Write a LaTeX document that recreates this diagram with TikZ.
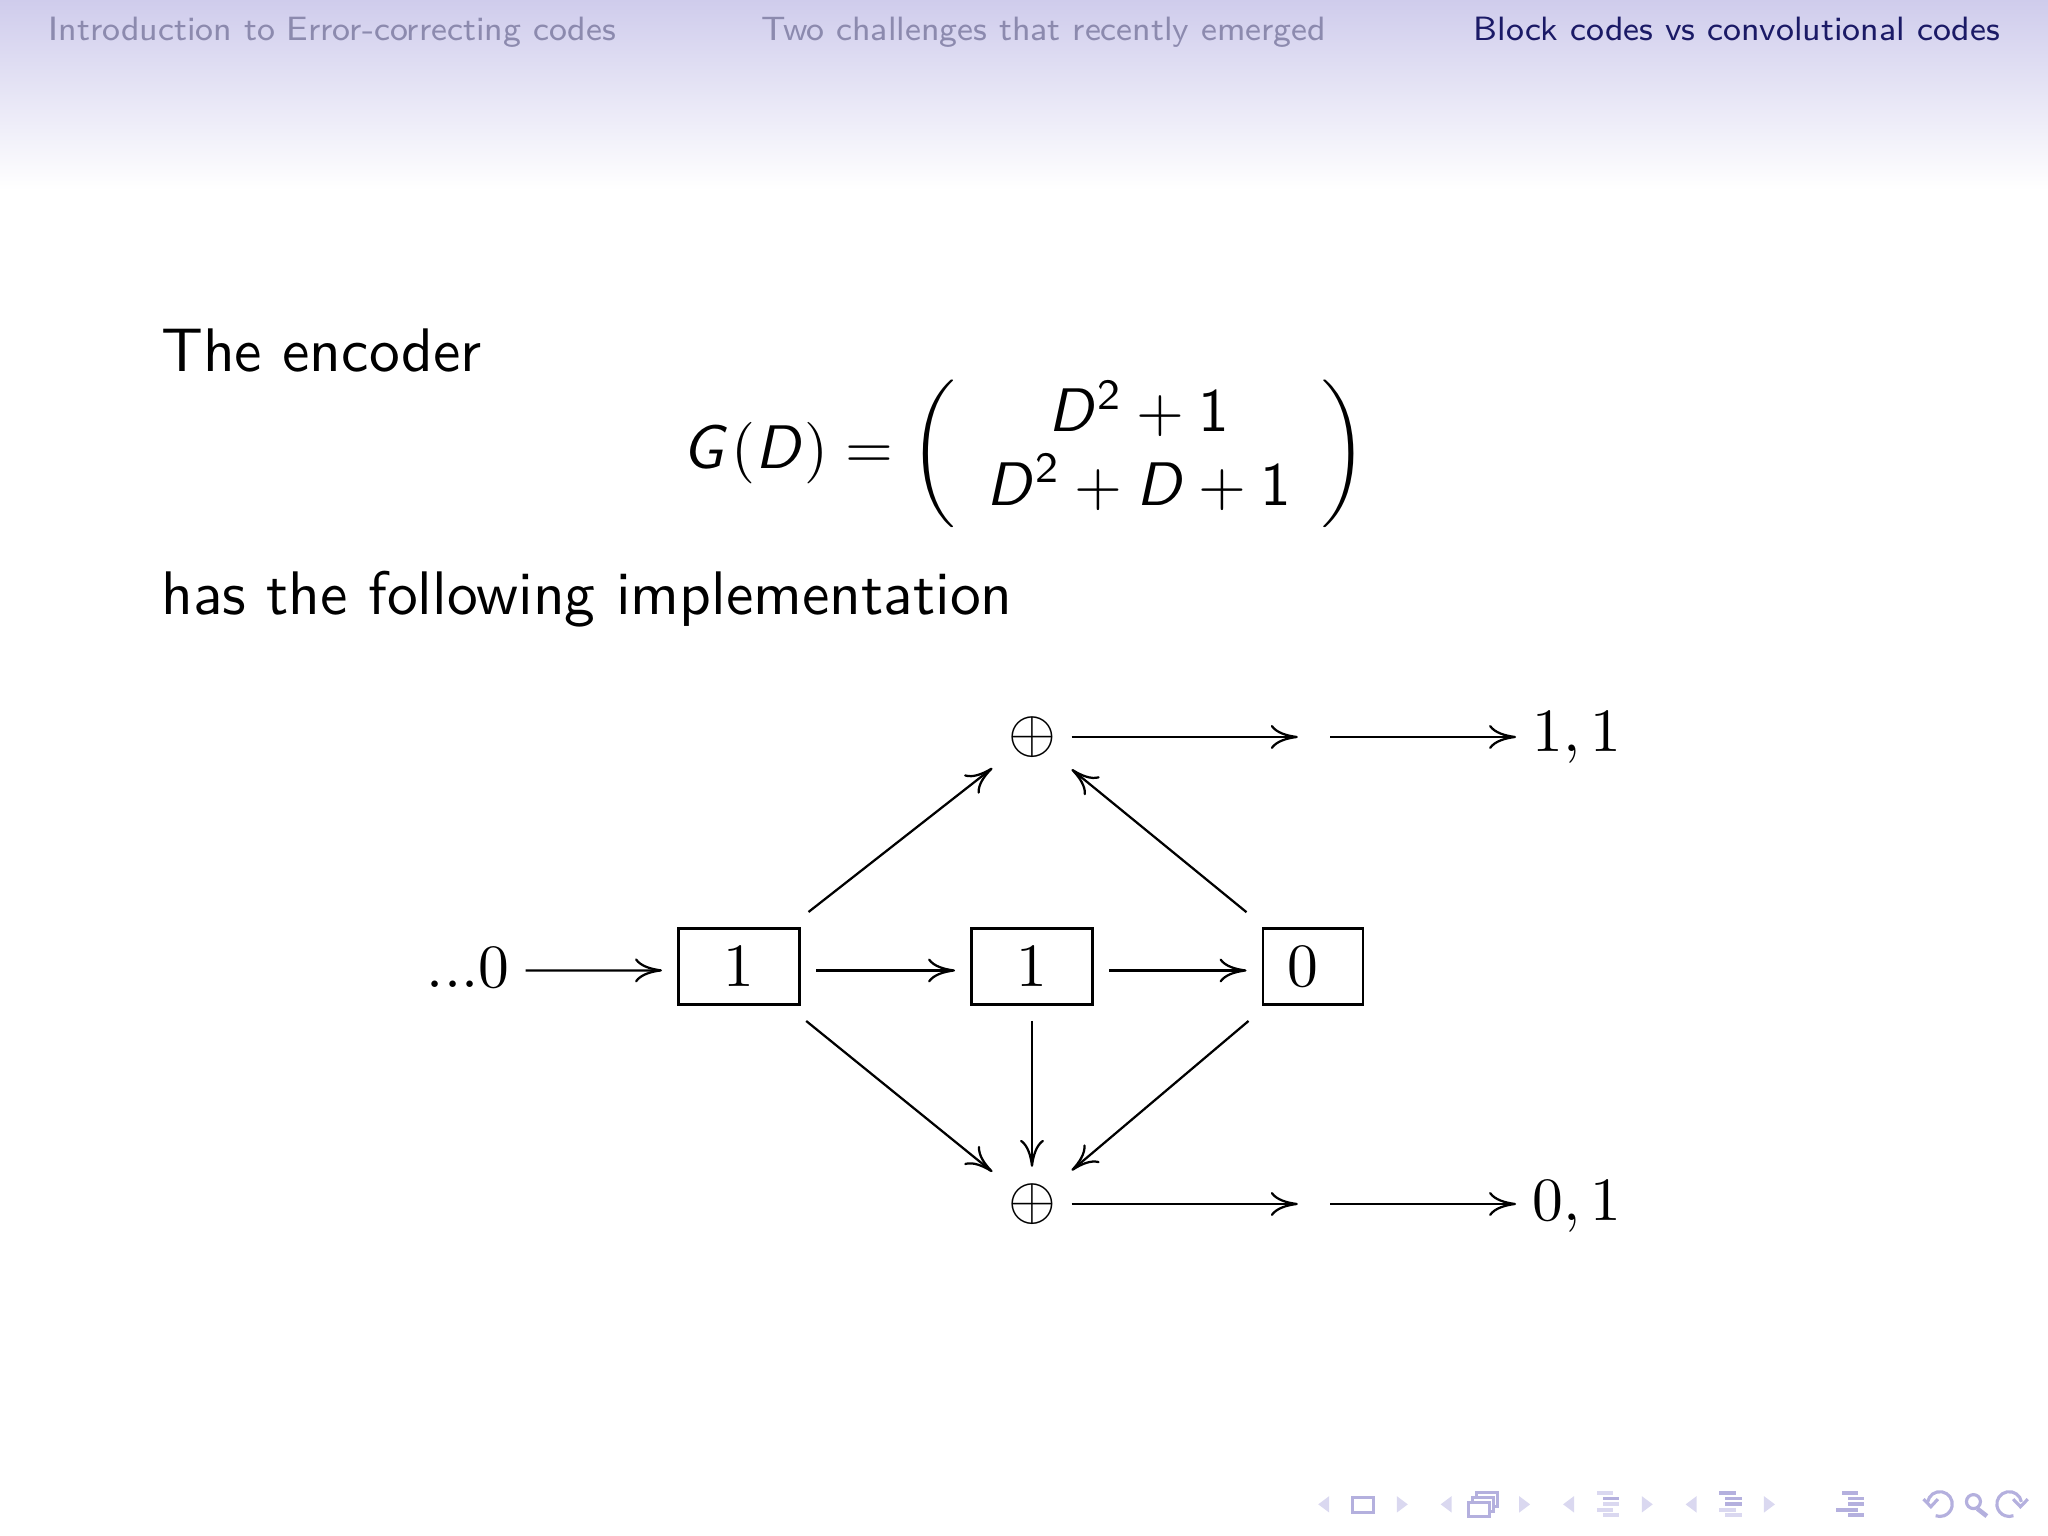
\documentclass[tikz,border=0pt]{standalone}
\usepackage{graphicx}
\usetikzlibrary{arrows.meta}
\renewcommand{\familydefault}{\sfdefault}
\DeclareMathAlphabet{\mathsl}{OT1}{cmss}{m}{sl}
\definecolor{headtop}{HTML}{CFCCEC}
\definecolor{headfade}{HTML}{8C8AAE}
\definecolor{headactive}{HTML}{1B1A66}
\definecolor{navdark}{HTML}{B4B0DE}
\definecolor{navlight}{HTML}{DAD8F0}
\newcommand{\bodymag}[1]{\scalebox{1.75}{#1}}
\newcommand{\headmag}[1]{\scalebox{1.2}{\fontsize{8}{9.6}\selectfont #1}}
\tikzset{
  headtext/.style={anchor=base west,inner sep=0pt},
  bodytext/.style={anchor=base west,inner sep=0pt},
  regbox/.style={draw,line width=.64pt,inner sep=0pt,minimum width=1.21cm,minimum height=.76cm,outer sep=.165cm},
  xorsum/.style={inner sep=0pt,minimum width=.78cm,minimum height=.73cm},
  hop/.style={inner sep=0pt,minimum width=.31cm},
  endtext/.style={inner sep=0pt,outer sep=.165cm},
  wire/.style={line width=.64pt,-{Computer Modern Rightarrow[length=.27cm,width=.24cm]}},
  navtri/.style={fill=navlight},
  navline/.style={draw=navdark,line width=.9pt,fill=white}
}
\begin{document}
\begin{tikzpicture}
  \useasboundingbox (0,0) rectangle (20.48,15.36);
  % Headline
  \shade[top color=headtop,bottom color=white] (0,15.36) rectangle (20.48,13.46);
  \node[headtext,text=headfade] (sec1) at (.48,14.955) {\headmag{Introduction to Error-correcting codes}};
  \node[headtext,text=headfade] (sec2) at (7.61,14.955) {\headmag{Two challenges that recently emerged}};
  \node[headtext,text=headactive] (sec3) at (14.73,14.955) {\headmag{Block codes vs convolutional codes}};
  % Text
  \node[bodytext] (intro) at (1.605,11.64) {\bodymag{The encoder}};
  \node (gen) at (10.25,10.825) {\bodymag{$\mathsl{G}\mathsf{(}\mathsl{D}\mathsf{)}=\left(\begin{array}{c}
      \mathsl{D}^{\mathsf{2}}+\mathsf{1}\\
      \mathsl{D}^{\mathsf{2}}+\mathsl{D}+\mathsf{1}
    \end{array}\right)$}};
  \node[bodytext] (impl) at (1.605,9.21) {\bodymag{has the following implementation}};
  % Registers
  \node[endtext] (in) at (4.68,5.68) {\bodymag{$...0$}};
  \node[regbox] (reg1) at (7.39,5.695) {\bodymag{$1$}};
  \node[regbox] (reg2) at (10.32,5.695) {\bodymag{$1$}};
  \node[regbox,minimum width=1cm] (reg3) at (13.13,5.695) {\bodymag{$0$}\kern.2cm};
  % Adders
  \node[xorsum] (top) at (10.32,7.99) {\bodymag{$\oplus$}};
  \node[xorsum] (bot) at (10.32,3.32) {\bodymag{$\oplus$}};
  \node[hop] (hoptop) at (13.14,7.99) {};
  \node[hop] (hopbot) at (13.14,3.32) {};
  \node[endtext] (outtop) at (15.77,7.98) {\bodymag{$1,1$}};
  \node[endtext] (outbot) at (15.77,3.29) {\bodymag{$0,1$}};
  % Shift
  \draw[wire] ([yshift=-.024cm]in.east) -- ([yshift=-.039cm]reg1.west);
  \draw[wire] ([yshift=-.04cm]reg1.east) -- ([yshift=-.04cm]reg2.west);
  \draw[wire] ([yshift=-.04cm]reg2.east) -- ([yshift=-.04cm]reg3.west);
  % Taps
  \draw[wire] (reg1) -- (top);
  \draw[wire] (reg3) -- (top);
  \draw[wire] (reg1) -- (bot);
  \draw[wire] (reg2) -- (bot);
  \draw[wire] (reg3) -- (bot);
  % Outputs
  \draw[wire] (top) -- (hoptop);
  \draw[wire] (hoptop) -- (outtop.west |- hoptop);
  \draw[wire] (bot) -- (hopbot);
  \draw[wire] (hopbot) -- (outbot.west |- hopbot);
  % Navigation symbols
  \begin{scope}[shift={(0cm,15.36cm)},x=.01cm,y=-.01cm]
    \foreach \tx in {1330,1452.5,1575,1697.6}
      \fill[navtri] (\tx,1497) -- (\tx,1513.5) -- ++(-11,-8.25) -- cycle;
    \foreach \tx in {1397.6,1520,1642.7,1765}
      \fill[navtri] (\tx,1497) -- (\tx,1513.5) -- ++(11,-8.25) -- cycle;
    \draw[navline] (1353.5,1498) rectangle (1374,1513);
    \foreach \sx/\sy in {1477/1493,1473/1498,1469/1503.5}
      \draw[navline] (\sx,\sy) rectangle ++(21,14);
    % line icons
    \foreach \lx/\ly/\lc in {0/1494/navlight,6/1499.5/navdark,6/1505/navlight,0/1511/navlight,6/1516/navlight}
      \fill[\lc] (1597.6+\lx,\ly-1.7) rectangle ++(16.7,3.4);
    \foreach \lx/\ly/\lc in {0/1494/navdark,6/1499.5/navdark,6/1505/navdark,0/1511/navlight,6/1516/navlight}
      \fill[\lc] (1720+\lx,\ly-1.7) rectangle ++(16.7,3.4);
    \foreach \lx/\ly in {0/1494,6/1499.5,6/1505,6/1516}
      \fill[navdark] (1842.7+\lx,\ly-1.7) rectangle ++(16.7,3.4);
    \fill[navdark] (1836.9,1509.3) rectangle (1859.4,1512.7);
    % undo, search, redo
    \draw[navdark,line width=.9pt] (1928.8,1502.8) arc[start angle=-170,end angle=110,radius=12.4];
    \draw[navdark,line width=.9pt] (1924.6,1500) -- (1932,1507.6) -- (1939,1500);
    \draw[navdark,line width=.9pt] (1974.6,1502.5) circle (7);
    \draw[navdark,line width=1.3pt] (1978.5,1509.6) -- (1988,1517);
    \draw[navdark,line width=.9pt] (2022.6,1502.8) arc[start angle=-10,end angle=-290,radius=12.4];
    \draw[navdark,line width=.9pt] (2014.3,1500) -- (2021.6,1507.6) -- (2029,1500);
  \end{scope}
\end{tikzpicture}
\end{document}
